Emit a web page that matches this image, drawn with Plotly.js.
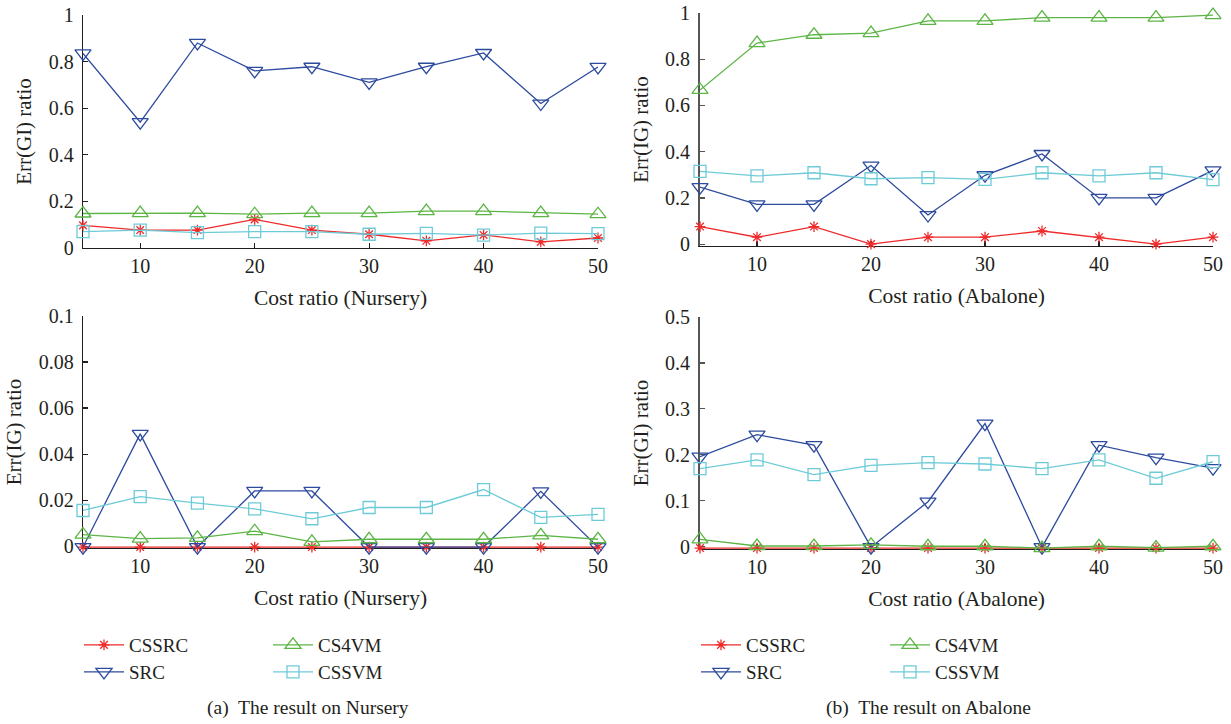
<!DOCTYPE html>
<html><head><meta charset="utf-8">
<script src="https://cdn.plot.ly/plotly-3.0.1.min.js"></script>
<style>html,body{margin:0;padding:0;background:#fff}#chart{width:1231px;height:724px}</style>
</head><body><div id="chart"></div>
<script>
// ---- data ----
const costRatio = [5, 10, 15, 20, 25, 30, 35, 40, 45, 50];
const xTickVals = [10, 20, 30, 40, 50];
const seriesNames = ['CSSRC', 'SRC', 'CS4VM', 'CSSVM'];

// (a) Nursery, Err(GI) ratio
const nurseryGI_CSSRC = [0.097, 0.077, 0.077, 0.123, 0.077, 0.059, 0.031, 0.056, 0.026, 0.043];
const nurseryGI_SRC   = [0.835, 0.54, 0.88, 0.76, 0.778, 0.711, 0.778, 0.837, 0.62, 0.777];
const nurseryGI_CS4VM = [0.148, 0.150, 0.150, 0.145, 0.150, 0.150, 0.158, 0.158, 0.150, 0.145];
const nurseryGI_CSSVM = [0.07, 0.077, 0.066, 0.07, 0.07, 0.059, 0.063, 0.055, 0.064, 0.062];

// (a) Nursery, Err(IG) ratio
const nurseryIG_CSSRC = [-0.0004, -0.0004, -0.0004, -0.0004, -0.0004, -0.0004, -0.0004, -0.0004, -0.0004, -0.0004];
const nurseryIG_SRC   = [-0.0004, 0.0488, -0.0004, 0.024, 0.024, -0.0004, -0.0004, -0.0004, 0.0238, -0.0004];
const nurseryIG_CS4VM = [0.005, 0.0033, 0.0036, 0.0065, 0.0019, 0.003, 0.003, 0.003, 0.0047, 0.003];
const nurseryIG_CSSVM = [0.0155, 0.0215, 0.0187, 0.0162, 0.0119, 0.0168, 0.0168, 0.0246, 0.0125, 0.0138];

// (b) Abalone, Err(IG) ratio
const abaloneIG_CSSRC = [0.076, 0.03, 0.076, 0.0, 0.03, 0.03, 0.057, 0.03, 0.0, 0.03];
const abaloneIG_SRC   = [0.247, 0.172, 0.172, 0.34, 0.126, 0.298, 0.39, 0.2, 0.2, 0.319];
const abaloneIG_CS4VM = [0.667, 0.87, 0.906, 0.913, 0.966, 0.966, 0.98, 0.98, 0.98, 0.991];
const abaloneIG_CSSVM = [0.315, 0.295, 0.309, 0.283, 0.288, 0.28, 0.309, 0.295, 0.309, 0.279];

// (b) Abalone, Err(GI) ratio
const abaloneGI_CSSRC = [-0.003, -0.003, -0.003, -0.003, -0.003, -0.003, -0.003, -0.003, -0.003, -0.003];
const abaloneGI_SRC   = [0.196, 0.244, 0.221, -0.001, 0.098, 0.268, -0.001, 0.221, 0.194, 0.171];
const abaloneGI_CS4VM = [0.016, 0.0015, 0.0015, 0.004, 0.001, 0.001, -0.003, 0.001, -0.002, 0.001];
const abaloneGI_CSSVM = [0.17, 0.189, 0.157, 0.177, 0.183, 0.18, 0.17, 0.189, 0.149, 0.185];

// ---- styles ----
const FONT = 'Liberation Serif, Times New Roman, serif';
const TXT = '#231f20';
const styles = {
  CSSRC: {color: '#ee2a2a', symbol: 'asterisk-open', size: 9},
  SRC:   {color: '#2c4a9e', symbol: 'triangle-down-open', size: 14},
  CS4VM: {color: '#5cb544', symbol: 'triangle-up-open', size: 14},
  CSSVM: {color: '#6dcbd8', symbol: 'square-open', size: 12}
};

function mk(name, y, xa, ya, legendId) {
  const s = styles[name];
  return {
    type: 'scatter', mode: 'lines+markers', name: name,
    x: costRatio, y: y, xaxis: xa, yaxis: ya,
    line: {color: s.color, width: 1.3},
    marker: {symbol: s.symbol, size: s.size, color: s.color, line: {color: s.color, width: 1.3}},
    cliponaxis: false,
    showlegend: !!legendId,
    legend: legendId || 'legend',
    hoverinfo: 'x+y+name'
  };
}

const traces = [
  // top-left
  mk('CSSRC', nurseryGI_CSSRC, 'x', 'y', 'legend'),
  mk('SRC', nurseryGI_SRC, 'x', 'y', 'legend2'),
  mk('CS4VM', nurseryGI_CS4VM, 'x', 'y', 'legend'),
  mk('CSSVM', nurseryGI_CSSVM, 'x', 'y', 'legend2'),
  // top-right
  mk('CSSRC', abaloneIG_CSSRC, 'x2', 'y2', 'legend3'),
  mk('SRC', abaloneIG_SRC, 'x2', 'y2', 'legend4'),
  mk('CS4VM', abaloneIG_CS4VM, 'x2', 'y2', 'legend3'),
  mk('CSSVM', abaloneIG_CSSVM, 'x2', 'y2', 'legend4'),
  // bottom-left
  mk('CSSRC', nurseryIG_CSSRC, 'x3', 'y3'),
  mk('SRC', nurseryIG_SRC, 'x3', 'y3'),
  mk('CS4VM', nurseryIG_CS4VM, 'x3', 'y3'),
  mk('CSSVM', nurseryIG_CSSVM, 'x3', 'y3'),
  // bottom-right
  mk('CSSRC', abaloneGI_CSSRC, 'x4', 'y4'),
  mk('SRC', abaloneGI_SRC, 'x4', 'y4'),
  mk('CS4VM', abaloneGI_CS4VM, 'x4', 'y4'),
  mk('CSSVM', abaloneGI_CSSVM, 'x4', 'y4')
];

const W = 1231, H = 724;
const px = (a, b) => [a / W, b / W];
const py = (top, bottom) => [(H - bottom) / H, (H - top) / H];

function xAxis(domain, anchor, title) {
  return {
    domain: domain, anchor: anchor, range: [5, 50], tickvals: xTickVals,
    showline: true, linecolor: '#231f20', linewidth: 1.3,
    ticks: 'inside', ticklen: 5, tickcolor: '#231f20', tickwidth: 1.2,
    showgrid: false, zeroline: false, layer: 'below traces',
    tickfont: {family: FONT, size: 20, color: TXT},
    title: {text: title, font: {family: FONT, size: 21.5, color: TXT}, standoff: 13},
    automargin: false, fixedrange: true
  };
}
function yAxis(domain, anchor, range, dtick, title, lc, lw, standoff) {
  return {
    domain: domain, anchor: anchor, range: range, dtick: dtick, tick0: 0,
    showline: true, linecolor: lc, linewidth: lw,
    ticks: 'inside', ticklen: 5, tickcolor: lc, tickwidth: 1.2,
    showgrid: false, zeroline: false, layer: 'below traces',
    tickfont: {family: FONT, size: 20, color: TXT}, ticklabelstandoff: 4,
    title: {text: title, font: {family: FONT, size: 21, color: TXT}, standoff: standoff},
    automargin: false, fixedrange: true
  };
}

function legendBox(x, y) {
  return {
    orientation: 'h', x: x, y: y, xanchor: 'left', yanchor: 'middle',
    font: {family: FONT, size: 19, color: TXT},
    entrywidth: 134, entrywidthmode: 'pixels',
    bgcolor: 'rgba(0,0,0,0)', borderwidth: 0, itemwidth: 40
  };
}

const layout = {
  width: W, height: H,
  margin: {l: 0, r: 0, t: 0, b: 0},
  paper_bgcolor: '#fff', plot_bgcolor: '#fff',
  font: {family: FONT, color: TXT},
  xaxis:  xAxis(px(83, 598), 'y', 'Cost ratio (Nursery)'),
  yaxis:  yAxis(py(15, 248), 'x', [0, 1], 0.2, 'Err(GI) ratio', '#231f20', 1.3, 11),
  xaxis2: xAxis(px(700, 1213), 'y2', 'Cost ratio (Abalone)'),
  yaxis2: yAxis(py(13, 246), 'x2', [-0.008, 1], 0.2, 'Err(IG) ratio', '#555555', 2, 11),
  xaxis3: xAxis(px(83, 598), 'y3', 'Cost ratio (Nursery)'),
  yaxis3: yAxis(py(316, 548), 'x3', [-0.0008, 0.1], 0.02, 'Err(IG) ratio', '#231f20', 1.3, 11),
  xaxis4: xAxis(px(700, 1213), 'y4', 'Cost ratio (Abalone)'),
  yaxis4: yAxis(py(317, 549), 'x4', [-0.005, 0.5], 0.1, 'Err(GI) ratio', '#555555', 2, 11),
  legend:  legendBox(79 / W, 1 - 645 / H),
  legend2: legendBox(79 / W, 1 - 672 / H),
  legend3: legendBox(696 / W, 1 - 645 / H),
  legend4: legendBox(696 / W, 1 - 672 / H),
  annotations: [
    {text: '(a)  The result on Nursery', x: 308 / W, y: 1 - 708 / H, xref: 'paper', yref: 'paper',
     xanchor: 'center', yanchor: 'middle', showarrow: false, font: {family: FONT, size: 19.5, color: TXT}},
    {text: '(b)  The result on Abalone', x: 928 / W, y: 1 - 708 / H, xref: 'paper', yref: 'paper',
     xanchor: 'center', yanchor: 'middle', showarrow: false, font: {family: FONT, size: 19.5, color: TXT}}
  ],
  showlegend: true
};

Plotly.newPlot('chart', traces, layout, {staticPlot: true, displayModeBar: false});
</script>
</body></html>
